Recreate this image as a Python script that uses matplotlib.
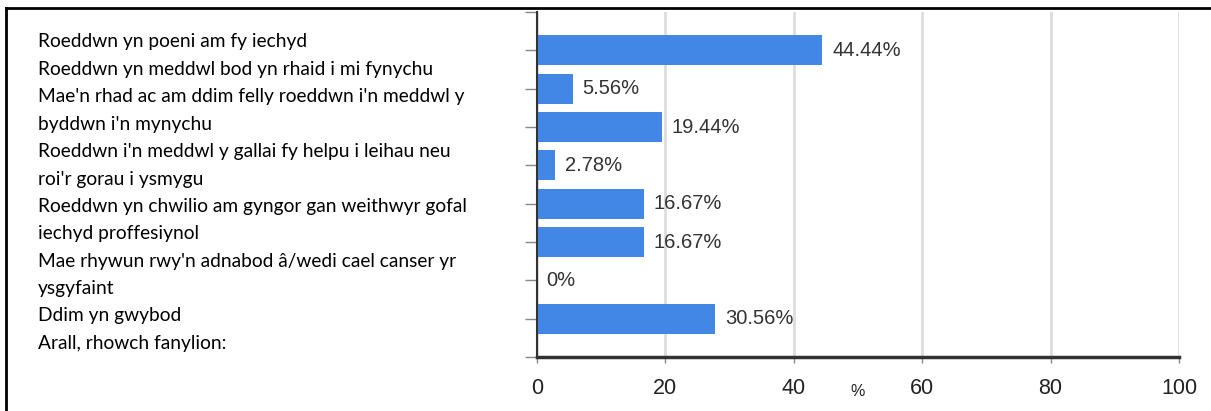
import matplotlib.pyplot as plt
from matplotlib.lines import Line2D

# answer options, as wrapped in the source table
option_lines = [
    "Roeddwn yn poeni am fy iechyd",
    "Roeddwn yn meddwl bod yn rhaid i mi fynychu",
    "Mae'n rhad ac am ddim felly roeddwn i'n meddwl y",
    "byddwn i'n mynychu",
    "Roeddwn i'n meddwl y gallai fy helpu i leihau neu",
    "roi'r gorau i ysmygu",
    "Roeddwn yn chwilio am gyngor gan weithwyr gofal",
    "iechyd proffesiynol",
    "Mae rhywun rwy'n adnabod â/wedi cael canser yr",
    "ysgyfaint",
    "Ddim yn gwybod",
    "Arall, rhowch fanylion:",
]

# bar lengths as drawn, and the labels printed next to them
values = [44.44, 5.56, 19.44, 2.78, 16.67, 16.67, 0, 27.78]
value_labels = ["44.44%", "5.56%", "19.44%", "2.78%", "16.67%", "16.67%", "0%", "30.56%"]
x_ticks = [0, 20, 40, 60, 80, 100]

W, H = 1211, 411
fig = plt.figure(figsize=(W / 100, H / 100), dpi=100)

# frame lines of the screenshot (top and left only)
fig.add_artist(Line2D([6 / W, 6 / W], [0, 1 - 8 / H], color="black", lw=2))
fig.add_artist(Line2D([6 / W, 1], [1 - 8 / H, 1 - 8 / H], color="black", lw=2))

# left-hand text block
y0, step = 42, 27.4
for i, line in enumerate(option_lines):
    fig.text(38 / W, 1 - (y0 + i * step) / H, line, fontsize=13.8,
             family="Lato", va="center", ha="left", color="black")

ax = fig.add_axes([537 / W, 1 - 357 / H, (1179 - 537) / W, (357 - 12) / H])
pos = list(range(len(values)))
ax.barh(pos, values, height=0.78, color="#4287e6", zorder=3)
for p, v, lab in zip(pos, values, value_labels):
    ax.annotate(lab, (v, p), xytext=(7, 0), textcoords="offset points",
                va="center", ha="left", fontsize=14.5, color="#333333",
                family="Liberation Sans")

ax.set_xlim(0, 100)
ax.set_ylim(8, -1)
ax.set_yticks(range(-1, 9))
ax.set_yticklabels([])
ax.tick_params(axis="y", length=9, width=1, color="#888888")
ax.set_xticks(x_ticks)
ax.set_xticklabels([str(t) for t in x_ticks], fontsize=15.5, family="Liberation Sans",
                   color="#222222")
ax.tick_params(axis="x", length=4, width=1, color="#888888", pad=11)
ax.grid(axis="x", color="#dddddd", lw=2, zorder=0)
for side in ["top", "right"]:
    ax.spines[side].set_visible(False)
ax.spines["left"].set_color("#333333")
ax.spines["left"].set_linewidth(1.5)
ax.spines["bottom"].set_color("#333333")
ax.spines["bottom"].set_linewidth(2.5)
ax.spines["left"].set_zorder(4)
ax.spines["bottom"].set_zorder(4)
ax.text(0.5, -0.101, "%", transform=ax.transAxes, fontsize=11.5,
        family="Liberation Sans", ha="center", va="center", color="#222222")

fig.savefig("out.png", dpi=100)
